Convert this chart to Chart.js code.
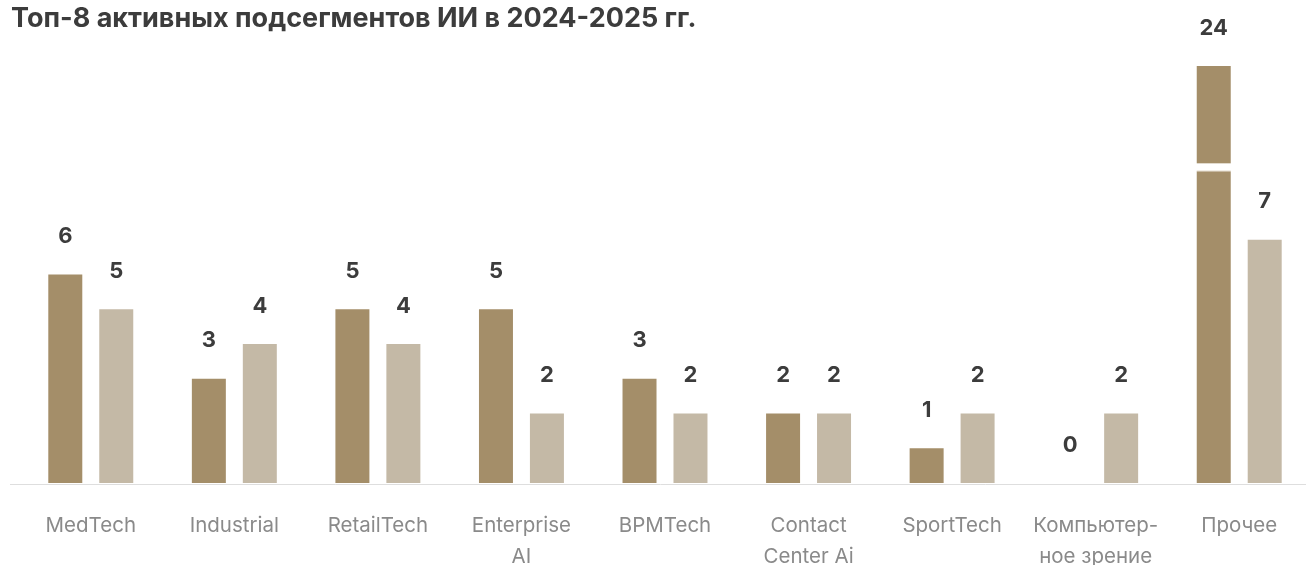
<!DOCTYPE html>
<html lang="ru">
<head>
<meta charset="utf-8">
<title>Топ-8 активных подсегментов ИИ</title>
<script src="https://cdn.jsdelivr.net/npm/chart.js@4"></script>
<style>
  html, body { margin: 0; padding: 0; background: #fff; overflow: hidden; }
  #wrap { position: relative; width: 1306px; height: 565px; overflow: hidden; }
  #myChart { position: absolute; left: 0; top: 0; }
  #title {
    position: absolute; left: 11px; top: 1px;
    font: 700 27px Inter, sans-serif; color: #3c3c3c; letter-spacing: 0;
  }
</style>
</head>
<body>
<div id="wrap">
  <canvas id="myChart" width="1311" height="565"></canvas>
  <div id="title">Топ-8 активных подсегментов ИИ в 2024-2025 гг.</div>
</div>
<script>
  const categories = [
    "MedTech",
    "Industrial",
    "RetailTech",
    ["Enterprise", "AI"],
    "BPMTech",
    ["Contact", "Center Ai"],
    "SportTech",
    ["Компьютер-", "ное зрение"],
    "Прочее",
  ];
  const values2024 = [6, 3, 5, 5, 3, 2, 1, 0, 24];
  const values2025 = [5, 4, 4, 2, 2, 2, 2, 2, 7];
  const axisMax = 12; // bars above this are cut with a break mark

  // value labels + axis break for bars taller than the axis
  const barLabels = {
    id: "barLabels",
    afterDatasetsDraw(chart) {
      const ctx = chart.ctx;
      const area = chart.chartArea;
      ctx.save();
      chart.data.datasets.forEach((ds, i) => {
        const meta = chart.getDatasetMeta(i);
        meta.data.forEach((bar, j) => {
          const v = ds.data[j];
          const top = Math.max(bar.y, area.top);
          if (v > axisMax) {
            // white break across the bar
            const yb = chart.scales.y.getPixelForValue(axisMax * 0.757);
            ctx.fillStyle = "#fff";
            ctx.fillRect(bar.x - bar.width / 2 - 1, yb - 4, bar.width + 2, 8);
            ctx.fillStyle = "rgba(220,210,190,0.6)";
            ctx.fillRect(bar.x - bar.width / 2, yb + 3, bar.width, 1);
          }
          ctx.fillStyle = "#3c3c3c";
          ctx.font = "700 22px Inter";
          ctx.textAlign = "center";
          ctx.textBaseline = "middle";
          ctx.fillText(String(v), bar.x, top - 38);
        });
      });
      // baseline
      ctx.strokeStyle = "#dedede";
      ctx.lineWidth = 1;
      ctx.beginPath();
      ctx.moveTo(10, area.bottom + 1.5);
      ctx.lineTo(chart.width, area.bottom + 1.5);
      ctx.stroke();
      ctx.restore();
    },
  };

  const ctx = document.getElementById("myChart").getContext("2d");
  const myChart = new Chart(ctx, {
    type: "bar",
    data: {
      labels: categories,
      datasets: [
        {
          label: "2024",
          backgroundColor: "#a48e69",
          data: values2024,
        },
        {
          label: "2025",
          backgroundColor: "#c4b9a6",
          data: values2025,
        },
      ],
    },
    options: {
      responsive: false,
      animation: false,
      categoryPercentage: 0.71,
      barPercentage: 0.667,
      layout: { padding: { top: 66, left: 19, right: 0, bottom: 0 } },
      plugins: {
        legend: { display: false },
        tooltip: { enabled: false },
      },
      scales: {
        y: {
          display: false,
          min: 0,
          max: axisMax,
        },
        x: {
          grid: { display: false, drawTicks: false },
          border: { display: false },
          ticks: {
            color: "#8a8a8a",
            padding: 27,
            maxRotation: 0,
            autoSkip: false,
            font: { family: "Inter", size: 20.5, lineHeight: 1.52 },
          },
          afterFit(scale) {
            scale.height = 82;
          },
        },
      },
    },
    plugins: [barLabels],
  });
</script>
</body>
</html>
